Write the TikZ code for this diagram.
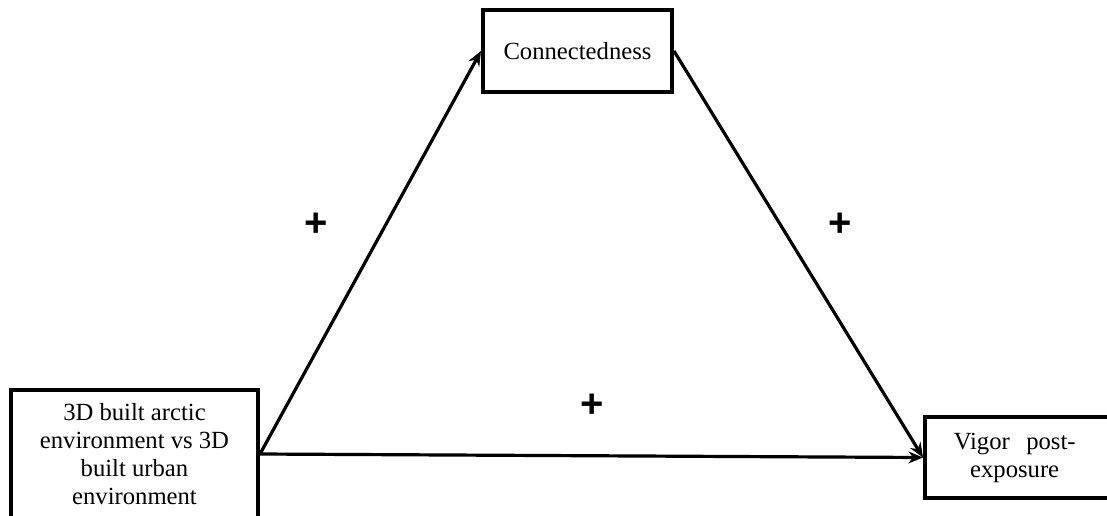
\documentclass[tikz,border=0pt]{standalone}
\usepackage{fontspec}
\setmainfont{Liberation Serif}
\newfontfamily\plusfont{Liberation Sans}
\usetikzlibrary{arrows.meta}
\begin{document}
\begin{tikzpicture}[x=0.75pt,y=-0.75pt,
  box/.style={draw=black,line width=3pt,fill=white,inner sep=0pt,align=center,
    font=\fontsize{18.5}{21}\selectfont},
  link/.style={line width=2.4pt,-{Stealth[length=11pt,width=9pt]}},
  sign/.style={font=\plusfont\bfseries\fontsize{30}{36}\selectfont,inner sep=0pt}]
\useasboundingbox[fill=white] (0,0) rectangle (1107,515);
\clip (0,0) rectangle (1107,515);
\node[box,minimum width=189*0.75pt,minimum height=82*0.75pt] (conn) at (577.5,51) {Connectedness};
\node[box,minimum width=247*0.75pt,minimum height=128*0.75pt] (env) at (134.5,454)
  {3D built arctic\\environment vs 3D\\built urban\\environment};
\node[box,minimum width=190*0.75pt,minimum height=81*0.75pt,text width=180*0.75pt] (vigor) at (1020,457.5)
  {\hspace*{-8pt}Vigor\ \ post-\\\hspace*{-8pt}exposure};
\draw[link] (env.east) -- (conn.west);
\draw[link] (conn.east) -- (vigor.west);
\draw[link] (env.east) -- (vigor.west);
\node[sign] (p1) at (316,225) {+};
\node[sign] (p2) at (840,225) {+};
\node[sign] (p3) at (592,406) {+};
\end{tikzpicture}
\end{document}
